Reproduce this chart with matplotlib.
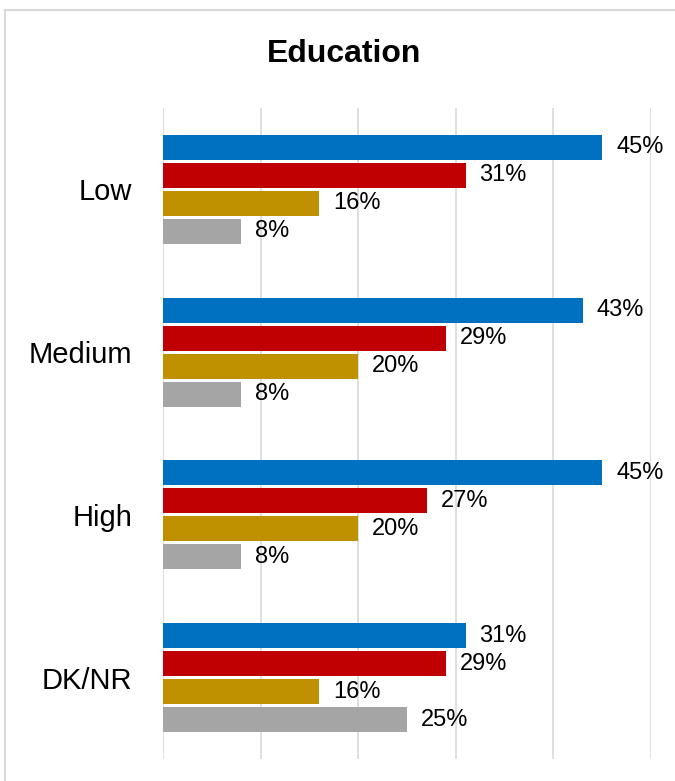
import numpy as np
import matplotlib
matplotlib.use("Agg")
from matplotlib import pyplot as plt
from matplotlib.lines import Line2D

# data
categories = ["Low", "Medium", "High", "DK/NR"]
series_blue = [45, 43, 45, 31]
series_red = [31, 29, 27, 29]
series_gold = [16, 20, 20, 16]
series_gray = [8, 8, 8, 25]
colors = ["#0070C0", "#C00000", "#BF9000", "#A5A5A5"]

plt.rcParams['font.family'] = ['Liberation Sans', 'DejaVu Sans']

fig = plt.figure(figsize=(6.75, 7.81), dpi=100)
ax = fig.add_axes([163 / 675, 1 - 759 / 781, (651 - 163) / 675, (759 - 108) / 781])

all_series = [series_blue, series_red, series_gold, series_gray]
step = 0.172
height = 0.155
y = np.arange(len(categories))

for i, (vals, col) in enumerate(zip(all_series, colors)):
    pos = y + (i - 1.5) * step
    ax.barh(pos, vals, height=height, color=col, zorder=3)
    for p, v in zip(pos, vals):
        ax.annotate(f"{v}%", (v, p), xytext=(10, 0), textcoords="offset points",
                    va="center", ha="left", fontsize=17, color="#000000")

ax.set_xlim(0, 50)
ax.set_ylim(len(categories) - 0.5, -0.5)
ax.set_xticks(np.arange(0, 51, 10))
ax.set_xticklabels([])
ax.set_yticks(y)
ax.set_yticklabels(categories, fontsize=21)
ax.tick_params(axis="both", length=0)
ax.tick_params(axis="y", pad=22)
ax.grid(axis="x", color="#D9D9D9", linewidth=1.2, zorder=0)
for s in ax.spines.values():
    s.set_visible(False)

fig.text(344 / 675, 1 - 54 / 781, "Education", ha="center", va="center",
         fontsize=23, fontweight="bold")

# light chart border (top and left visible)
fig.add_artist(Line2D([5 / 675, 1], [1 - 9.5 / 781, 1 - 9.5 / 781], color="#D9D9D9", lw=1.5))
fig.add_artist(Line2D([5.5 / 675, 5.5 / 675], [0, 1 - 9.5 / 781], color="#D9D9D9", lw=1.5))

fig.savefig("out.png", dpi=100)
